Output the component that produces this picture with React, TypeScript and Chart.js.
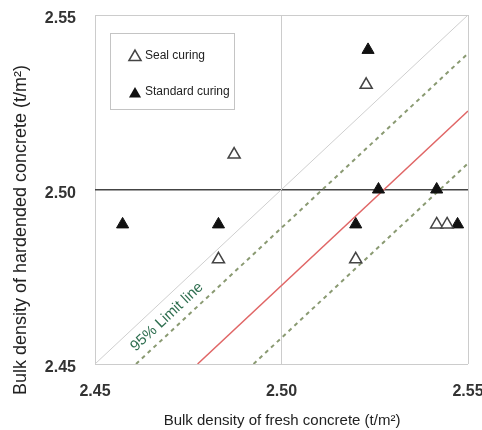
import React, { useEffect, useRef } from "react";
import { Chart, registerables } from "chart.js";

Chart.register(...registerables);

// ---- data ----
const sealX = [2.4873, 2.4831, 2.5227, 2.5199, 2.5416, 2.5444];
const sealY = [2.51, 2.48, 2.53, 2.48, 2.49, 2.49];
const stdX = [2.5232, 2.4574, 2.4831, 2.5199, 2.526, 2.5416, 2.5472];
const stdY = [2.54, 2.49, 2.49, 2.49, 2.5, 2.5, 2.49];

// reference lines (endpoints)
const equalityX = [2.45, 2.55];
const equalityY = [2.45, 2.55];
const meanX = [2.4775, 2.55];
const meanY = [2.45, 2.5225];
const upperLimitX = [2.461, 2.55];
const upperLimitY = [2.45, 2.539];
const lowerLimitX = [2.4925, 2.55];
const lowerLimitY = [2.45, 2.5075];

const xTicks = [2.45, 2.5, 2.55];
const yTicks = [2.45, 2.5, 2.55];

const limitLabel = "95% Limit line";
const limitLabelPos = [2.4693, 2.4635];

const xTitle = "Bulk density of fresh concrete (t/m²)";
const yTitle = "Bulk density of hardended concrete (t/m²)";
const legendLabels = ["Seal curing", "Standard curing"];

const FONT = "'Liberation Sans', Arial, sans-serif";

const toPts = (xs: number[], ys: number[]) => xs.map((x, i) => ({ x, y: ys[i] }));
const isMid = (v: number) => Math.abs(v - 2.5) < 1e-6;

function tri(ctx: CanvasRenderingContext2D, cx: number, cy: number, r: number) {
  ctx.beginPath();
  ctx.moveTo(cx, cy - r);
  ctx.lineTo(cx + r * Math.sin((2 * Math.PI) / 3), cy - r * Math.cos((2 * Math.PI) / 3));
  ctx.lineTo(cx + r * Math.sin((4 * Math.PI) / 3), cy - r * Math.cos((4 * Math.PI) / 3));
  ctx.closePath();
}

const decorPlugin = {
  id: "decor",
  afterDatasetsDraw(chart: any) {
    const ctx: CanvasRenderingContext2D = chart.ctx;
    const xs = chart.scales.x;
    const ys = chart.scales.y;
    ctx.save();
    // limit label
    const px = xs.getPixelForValue(limitLabelPos[0]);
    const py = ys.getPixelForValue(limitLabelPos[1]);
    const ang = Math.atan2(
      ys.getPixelForValue(2.55) - ys.getPixelForValue(2.45),
      xs.getPixelForValue(2.55) - xs.getPixelForValue(2.45)
    );
    ctx.translate(px, py);
    ctx.rotate(ang);
    ctx.fillStyle = "#2f6f50";
    ctx.font = `15px ${FONT}`;
    ctx.textAlign = "center";
    ctx.textBaseline = "middle";
    ctx.fillText(limitLabel, 0, 0);
    ctx.restore();

    // legend box
    ctx.save();
    ctx.fillStyle = "#ffffff";
    ctx.fillRect(110.5, 33.5, 124, 76);
    ctx.strokeStyle = "#c4c4c4";
    ctx.lineWidth = 1;
    ctx.strokeRect(110.5, 33.5, 124, 76);
    tri(ctx, 135, 57, 7);
    ctx.fillStyle = "#fff";
    ctx.fill();
    ctx.strokeStyle = "#444";
    ctx.lineWidth = 1.5;
    ctx.stroke();
    tri(ctx, 135, 94, 7);
    ctx.fillStyle = "#111";
    ctx.fill();
    ctx.fillStyle = "#222";
    ctx.font = `12px ${FONT}`;
    ctx.textAlign = "left";
    ctx.textBaseline = "middle";
    ctx.fillText(legendLabels[0], 145, 56);
    ctx.fillText(legendLabels[1], 145, 92);
    ctx.restore();

    // axis titles
    ctx.save();
    ctx.fillStyle = "#222";
    ctx.font = `15px ${FONT}`;
    ctx.textAlign = "center";
    ctx.textBaseline = "middle";
    ctx.fillText(xTitle, 282, 421);
    ctx.translate(21, 230);
    ctx.rotate(-Math.PI / 2);
    ctx.font = `18px ${FONT}`;
    ctx.fillText(yTitle, 0, 0);
    ctx.restore();
  },
};

export default function App() {
  const ref = useRef<HTMLCanvasElement | null>(null);
  useEffect(() => {
    if (!ref.current) return;
    const chart = new Chart(ref.current, {
      type: "scatter",
      data: {
        datasets: [
          {
            label: legendLabels[0],
            data: toPts(sealX, sealY),
            pointStyle: "triangle",
            pointRadius: 7,
            backgroundColor: "#ffffff",
            borderColor: "#444444",
            borderWidth: 1.5,
          },
          {
            label: legendLabels[1],
            data: toPts(stdX, stdY),
            pointStyle: "triangle",
            pointRadius: 7,
            backgroundColor: "#111111",
            borderColor: "#111111",
            borderWidth: 1,
          },
          {
            label: "upper",
            data: toPts(upperLimitX, upperLimitY),
            showLine: true,
            pointRadius: 0,
            borderColor: "#8a9a72",
            borderWidth: 2,
            borderDash: [4, 4],
          },
          {
            label: "lower",
            data: toPts(lowerLimitX, lowerLimitY),
            showLine: true,
            pointRadius: 0,
            borderColor: "#8a9a72",
            borderWidth: 2,
            borderDash: [4, 4],
          },
          {
            label: "mean",
            data: toPts(meanX, meanY),
            showLine: true,
            pointRadius: 0,
            borderColor: "#e06666",
            borderWidth: 1.5,
          },
          {
            label: "equality",
            data: toPts(equalityX, equalityY),
            showLine: true,
            pointRadius: 0,
            borderColor: "#cfcfcf",
            borderWidth: 1,
          },
        ],
      },
      options: {
        animation: false,
        responsive: false,
        devicePixelRatio: 1,
        layout: { padding: { top: 15, right: 14, left: 0, bottom: 0 } },
        plugins: { legend: { display: false }, tooltip: { enabled: false } },
        scales: {
          x: {
            type: "linear",
            min: 2.45,
            max: 2.55,
            afterBuildTicks: (s: any) => {
              s.ticks = xTicks.map((v) => ({ value: v }));
            },
            afterFit: (s: any) => {
              s.height = 66;
              s.paddingLeft = 0;
              s.paddingRight = 0;
            },
            ticks: {
              callback: (v: any) => Number(v).toFixed(2),
              font: { family: FONT, size: 16, weight: "bold" },
              color: "#333",
              padding: 18,
              maxRotation: 0,
            },
            grid: {
              drawTicks: false,
              color: "#cccccc",
              lineWidth: 1,
            },
            border: { display: false },
          },
          y: {
            type: "linear",
            min: 2.45,
            max: 2.55,
            afterBuildTicks: (s: any) => {
              s.ticks = yTicks.map((v) => ({ value: v }));
            },
            afterFit: (s: any) => {
              s.width = 95;
              s.paddingTop = 0;
              s.paddingBottom = 0;
            },
            ticks: {
              callback: (v: any) => Number(v).toFixed(2),
              font: { family: FONT, size: 16, weight: "bold" },
              color: "#333",
              padding: 19,
              labelOffset: 4,
            },
            grid: {
              drawTicks: false,
              color: (c: any) => (c.tick && isMid(c.tick.value) ? "#444444" : "#cccccc"),
              lineWidth: (c: any) => (c.tick && isMid(c.tick.value) ? 1.5 : 1),
            },
            border: { display: false },
          },
        },
      },
      plugins: [decorPlugin],
    } as any);
    return () => chart.destroy();
  }, []);
  return (
    <div style={{ position: "fixed", left: 0, top: 0, width: 482, height: 430, background: "#fff" }}>
      <canvas ref={ref} width={482} height={430} />
    </div>
  );
}
